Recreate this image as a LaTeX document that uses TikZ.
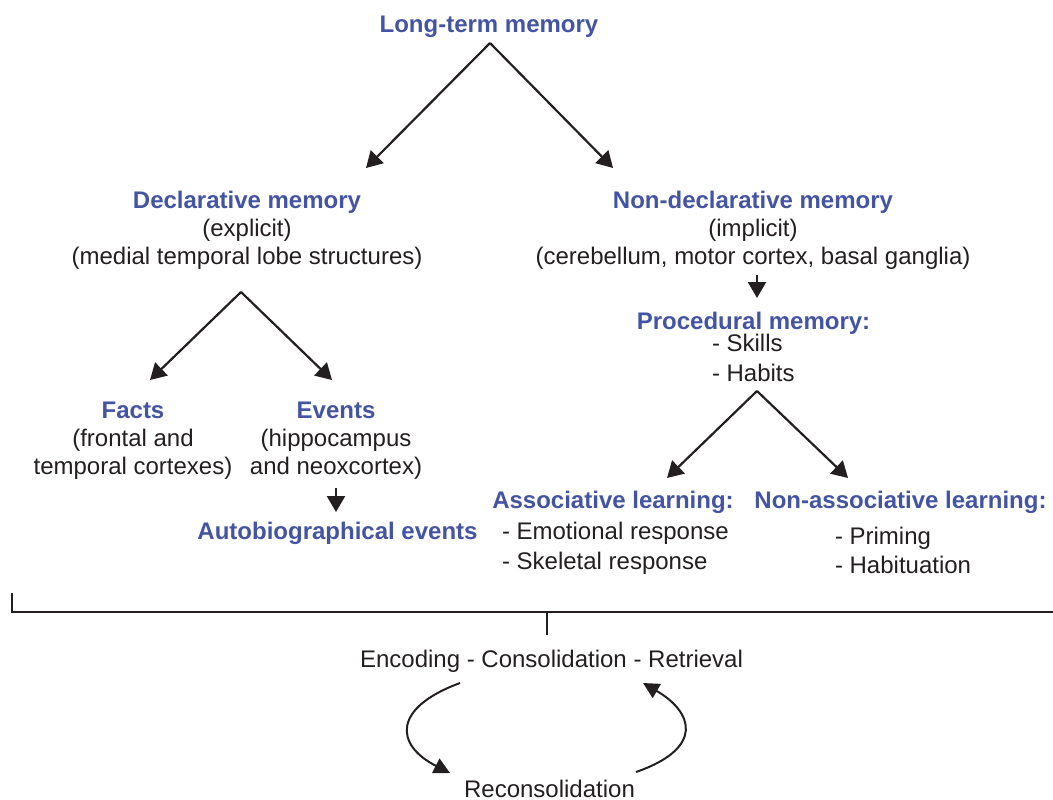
\documentclass[tikz,border=0pt]{standalone}
\usepackage{fontspec}
\setmainfont{Liberation Sans}
\usetikzlibrary{arrows.meta}
\definecolor{memblue}{RGB}{67,84,164}
\definecolor{ink}{RGB}{35,31,32}
\begin{document}
\begin{tikzpicture}[x=0.5pt,y=-0.5pt,
  every node/.style={inner sep=0pt, outer sep=0pt, text=ink, font=\fontsize{12}{14}\selectfont},
  headtxt/.style={font=\fontsize{12}{14}\selectfont\bfseries, text=memblue},
  block/.style={align=center, anchor=north},
  listtxt/.style={align=left, anchor=north west, font=\fontsize{12}{15}\selectfont},
  arr/.style={draw=ink, line width=1.1pt, -{Triangle[length=8pt,width=9pt]}},
  carr/.style={draw=ink, line width=1pt, -{Triangle[length=8pt,width=8pt]}},
  bracket/.style={draw=ink, line width=1.4pt}
]
\useasboundingbox (0,0) rectangle (1053,799);

% texts
\node[headtxt, anchor=base] (lt) at (489,32) {Long-term memory};
\node[block] (decl) at (247,191) {{\color{memblue}\bfseries Declarative memory}\\(explicit)\\(medial temporal lobe structures)};
\node[block] (nondecl) at (753,191) {{\color{memblue}\bfseries Non-declarative memory}\\(implicit)\\(cerebellum, motor cortex, basal ganglia)};
\node[headtxt, anchor=base] (proc) at (753.5,329) {Procedural memory:};
\node[listtxt] (procl) at (712,334) {- Skills\\- Habits};
\node[block] (facts) at (133,402) {{\color{memblue}\bfseries Facts}\\(frontal and\\temporal cortexes)};
\node[block] (events) at (336,402) {{\color{memblue}\bfseries Events}\\(hippocampus\\and neoxcortex)};
\node[headtxt, anchor=base] (auto) at (337.5,539) {Autobiographical events};
\node[headtxt, anchor=base] (assoc) at (613,508) {Associative learning:};
\node[listtxt] (assocl) at (502,522) {- Emotional response\\- Skeletal response};
\node[headtxt, anchor=base] (nonassoc) at (900.5,508) {Non-associative learning:};
\node[listtxt, font=\fontsize{12}{14.5}\selectfont] (nonassocl) at (835,527) {- Priming\\- Habituation};
\node[anchor=base] (ecr) at (551.5,667) {Encoding - Consolidation - Retrieval};
\node[anchor=base] (recon) at (549.5,797) {Reconsolidation};

% arrow coordinates
\coordinate (ltA) at (490,43);
\coordinate (declT) at (366,168);
\coordinate (nondeclT) at (613,168);
\coordinate (ndS) at (757,275);
\coordinate (procT) at (757,298);
\coordinate (procA) at (757,391);
\coordinate (assocT) at (667,478);
\coordinate (nonassocT) at (848,478);
\coordinate (declA) at (241,292);
\coordinate (factsT) at (150,380);
\coordinate (eventsT) at (332,380);
\coordinate (evS) at (336,488);
\coordinate (autoT) at (336,512);
\coordinate (brL) at (12,593);
\coordinate (brLc) at (12,612);
\coordinate (brR) at (1053,612);
\coordinate (brM) at (547,612);
\coordinate (brMb) at (547,635);
\coordinate (ecrL) at (460,683);
\coordinate (reconL) at (450,773);
\coordinate (reconR) at (636,772);
\coordinate (ecrR) at (643,683);

\draw[arr] (ltA) -- (declT);
\draw[arr] (ltA) -- (nondeclT);
\draw[arr] (ndS) -- (procT);
\draw[arr] (procA) -- (assocT);
\draw[arr] (procA) -- (nonassocT);
\draw[arr] (declA) -- (factsT);
\draw[arr] (declA) -- (eventsT);
\draw[arr] (evS) -- (autoT);

\draw[bracket] (brL) -- (brLc) -- (brR);
\draw[bracket, line width=1.1pt] (brM) -- (brMb);

\draw[carr] (ecrL) .. controls (392,708) and (395,745) .. (reconL);
\draw[carr] (reconR) .. controls (705,748) and (693,712) .. (ecrR);
\end{tikzpicture}
\end{document}
